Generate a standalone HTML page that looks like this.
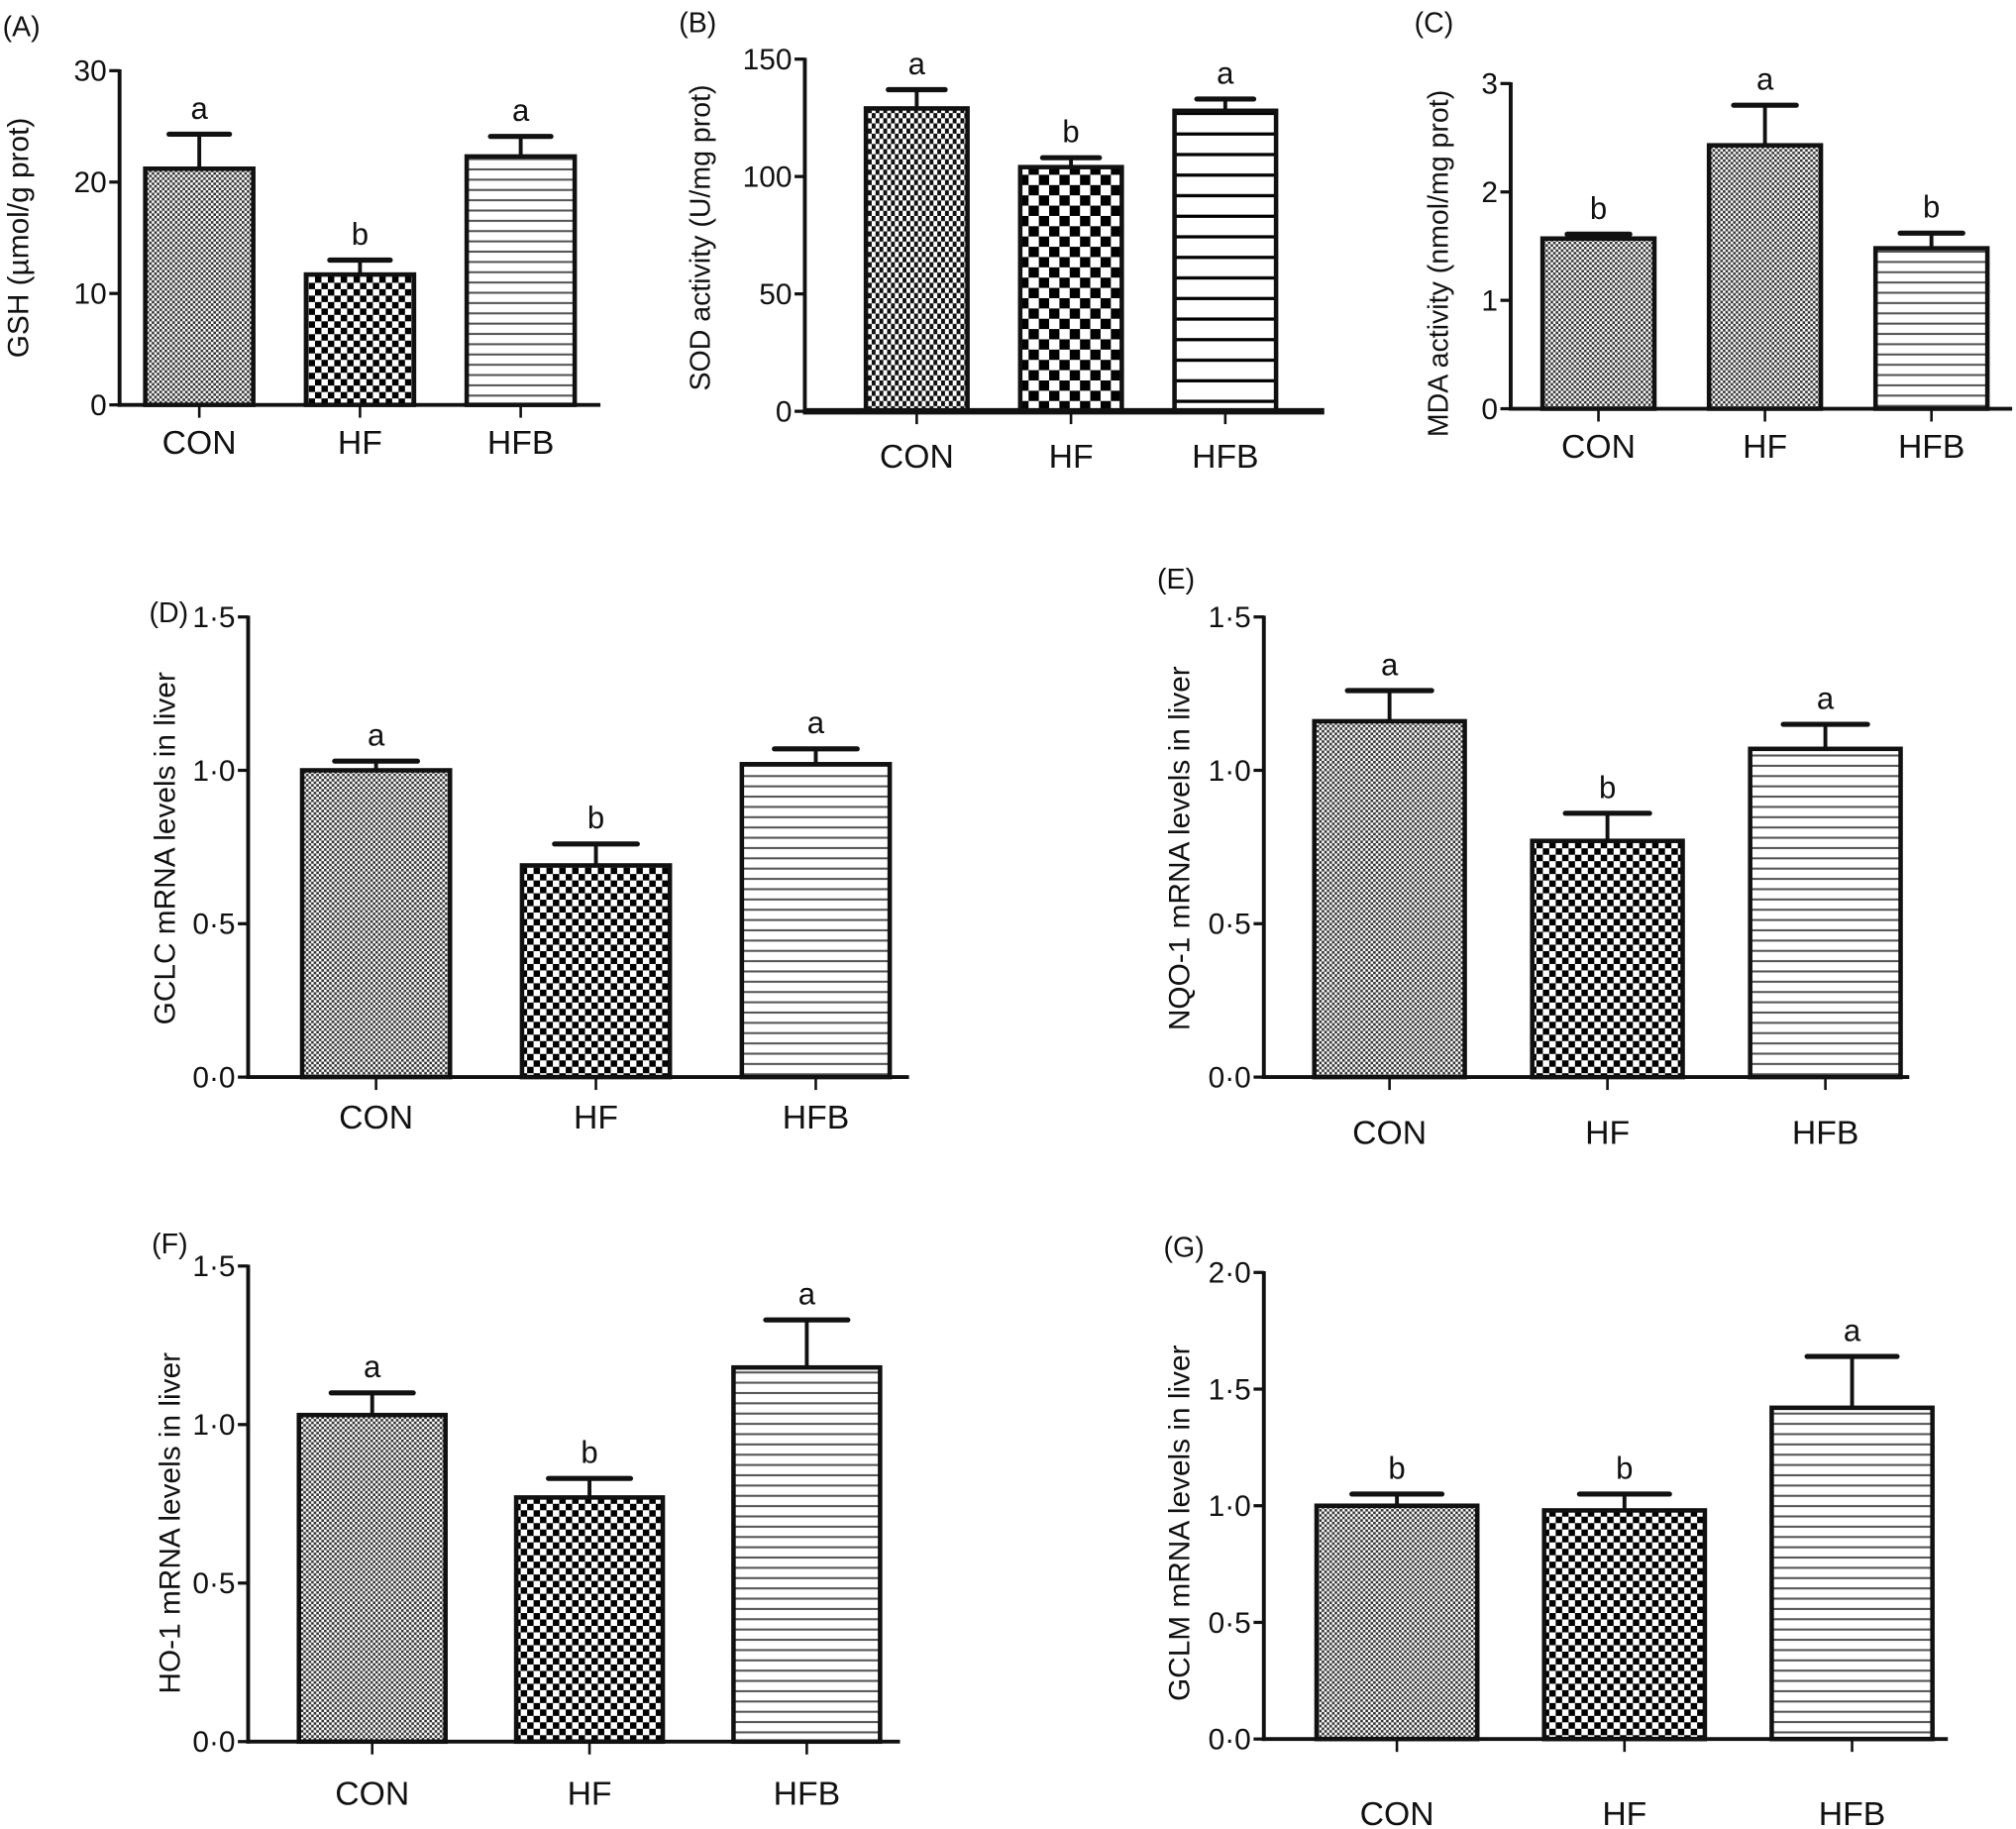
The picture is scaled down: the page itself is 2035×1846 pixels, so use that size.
<!DOCTYPE html>
<html><head><meta charset="utf-8"><style>
html,body{margin:0;padding:0;background:#fff;}
svg{display:block;font-family:"Liberation Sans",Arial,sans-serif;}
</style></head><body>
<svg id="fig" width="2035" height="1846" viewBox="0 0 1568 1423" preserveAspectRatio="none" xmlns="http://www.w3.org/2000/svg">
<defs>
<pattern id="pFine" width="4" height="4" patternUnits="userSpaceOnUse"><rect width="4" height="4" fill="#fff"/><rect width="2" height="2" fill="#333"/><rect x="2" y="2" width="2" height="2" fill="#333"/></pattern>
<pattern id="pCoarse" width="10" height="10" patternUnits="userSpaceOnUse"><rect width="10" height="10" fill="#fff"/><rect width="5" height="5" fill="#000"/><rect x="5" y="5" width="5" height="5" fill="#000"/></pattern>
<pattern id="pBig" width="16" height="16" patternUnits="userSpaceOnUse"><rect width="16" height="16" fill="#fff"/><rect width="8" height="8" fill="#000"/><rect x="8" y="8" width="8" height="8" fill="#000"/></pattern>
<pattern id="pVchk" width="6" height="8" patternUnits="userSpaceOnUse"><rect width="6" height="8" fill="#fff"/><rect width="3" height="4" fill="#111"/><rect x="3" y="4" width="3" height="4" fill="#111"/></pattern>
<pattern id="pLines" width="8" height="8" patternUnits="userSpaceOnUse"><rect width="8" height="8" fill="#fff"/><rect y="3" width="8" height="1.6" fill="#555"/></pattern>
<pattern id="pLinesWide" width="16" height="16" patternUnits="userSpaceOnUse"><rect width="16" height="16" fill="#fff"/><rect y="7" width="16" height="2.5" fill="#000"/></pattern>
</defs>
</svg>
<script>
const categories = ['CON','HF','HFB'];
// Panel A
const aVals = [21.2, 11.7, 22.3];
const aErr = [3.1, 1.3, 1.8];
const aSig = ['a','b','a'];
const aTicks = [0, 10, 20, 30];
// Panel B
const bVals = [129, 104, 128];
const bErr = [8, 4, 5];
const bSig = ['a','b','a'];
const bTicks = [0, 50, 100, 150];
// Panel C
const cVals = [1.57, 2.43, 1.48];
const cErr = [0.04, 0.37, 0.14];
const cSig = ['b','a','b'];
const cTicks = [0, 1, 2, 3];
// Panel D
const dVals = [1.0, 0.69, 1.02];
const dErr = [0.03, 0.07, 0.05];
const dSig = ['a','b','a'];
const dTicks = [0, 0.5, 1.0, 1.5];
// Panel E
const eVals = [1.16, 0.77, 1.07];
const eErr = [0.10, 0.09, 0.08];
const eSig = ['a','b','a'];
const eTicks = [0, 0.5, 1.0, 1.5];
// Panel F
const fVals = [1.03, 0.77, 1.18];
const fErr = [0.07, 0.06, 0.15];
const fSig = ['a','b','a'];
const fTicks = [0, 0.5, 1.0, 1.5];
// Panel G
const gVals = [1.0, 0.98, 1.42];
const gErr = [0.05, 0.07, 0.22];
const gSig = ['b','b','a'];
const gTicks = [0, 0.5, 1.0, 1.5, 2.0];

const NS = 'http://www.w3.org/2000/svg';
const svg = document.getElementById('fig');
function mk(tag, attrs, parent){ const e=document.createElementNS(NS,tag); for(const k in attrs) e.setAttribute(k,attrs[k]); (parent||svg).appendChild(e); return e; }

function panel(L, vals, errs, sig, ticks){
  const g = mk('g',{});
  
  
  const maxV = ticks[ticks.length-1];
  const y = v => L.y0 - (v/maxV)*(L.y0-L.yTop);
  const cx = i => L.start + (i+0.5)*L.step;
  const pl = mk('text',{x:L.lx,y:L.ly,'font-size':22,fill:'#111'},g); pl.textContent='('+L.id+')';
  
  
  vals.forEach((v,i)=>{
    const top = y(v), x0 = cx(i)-L.bw/2;
    const eTop = y(v+errs[i]);
    const el = mk('line',{x1:cx(i),x2:cx(i),y1:top,y2:eTop,stroke:'#111','stroke-width':3},g);
    
    
    const cap = mk('line',{x1:cx(i)-L.bw*0.28,x2:cx(i)+L.bw*0.28,y1:eTop,y2:eTop,stroke:'#111','stroke-width':4,'stroke-linecap':'round'},g);
    
    
    const r = mk('rect',{x:x0,y:top,width:L.bw,height:L.y0-top,fill:'url(#'+L.pats[i]+')',stroke:'#111','stroke-width':3.5},g);
    
    
    const s = mk('text',{x:cx(i),y:eTop-12,'font-size':24,'text-anchor':'middle',fill:'#111'},g); s.textContent=sig[i];
    
    
    const t = mk('line',{x1:cx(i),x2:cx(i),y1:L.y0,y2:L.y0+10,stroke:'#111','stroke-width':2},g);
    
    
    const xl = mk('text',{x:cx(i),y:L.xly,'font-size':26,'text-anchor':'middle',fill:'#111'},g); xl.textContent=categories[i];
    
    
  });
  const ya = mk('line',{x1:L.ax,x2:L.ax,y1:L.yTop-1,y2:L.y0+1.5,stroke:'#111','stroke-width':3},g);
  
  
  const xa = mk('line',{x1:L.ax-1.5,x2:L.xEnd,y1:L.y0,y2:L.y0,stroke:'#111','stroke-width':L.xw||3},g);
  
  
  ticks.forEach(tv=>{
    const ty=y(tv);
    const tk = mk('line',{x1:L.ax-8,x2:L.ax,y1:ty,y2:ty,stroke:'#111','stroke-width':2.5},g);
    
    
    const lab = mk('text',{x:L.ax-10,y:ty+8,'font-size':23,'text-anchor':'end',fill:'#111'},g);
    lab.textContent = L.dot ? tv.toFixed(1).replace('.','\u00B7') : String(tv);
    
    
  });
  const tt = mk('text',{x:0,y:0,'font-size':L.tfs||22,'text-anchor':'middle',fill:'#111',transform:'translate('+L.tx+','+L.ty+') rotate(-90)'},g);
  tt.textContent = L.title;
  
  
}

panel({id:'A',lx:2,ly:28,ax:93,y0:315,yTop:55,xEnd:467,start:92.5,step:125,bw:84,xly:353,tx:22,ty:185,tfs:23,title:'GSH (\u00B5mol/g prot)',pats:['pFine','pCoarse','pLines']}, aVals,aErr,aSig,aTicks);
panel({id:'B',lx:528,ly:25,ax:626,y0:320,yTop:46,xEnd:1030,start:653,step:120,bw:79,xly:364,tx:552,ty:185,title:'SOD activity (U/mg prot)',xw:5,pats:['pVchk','pBig','pLinesWide']}, bVals,bErr,bSig,bTicks);
panel({id:'C',lx:1100,ly:25,ax:1175,y0:318,yTop:65,xEnd:1565,start:1178.5,step:129.5,bw:87,xly:356,tx:1126,ty:205,title:'MDA activity (nmol/mg prot)',pats:['pFine','pFine','pLines']}, cVals,cErr,cSig,cTicks);
panel({id:'D',lx:116,ly:484,ax:193,y0:838,yTop:480,xEnd:707,start:207,step:171,bw:115,xly:878,tx:136,ty:660,title:'GCLC mRNA levels in liver',tfs:23,dot:true,pats:['pFine','pCoarse','pLines']}, dVals,dErr,dSig,dTicks);
panel({id:'E',lx:900,ly:458,ax:983,y0:838,yTop:480,xEnd:1485,start:996,step:169.5,bw:117,xly:890,tx:925,ty:660,title:'NQO-1 mRNA levels in liver',tfs:23,dot:true,pats:['pFine','pCoarse','pLines']}, eVals,eErr,eSig,eTicks);
panel({id:'F',lx:118,ly:975,ax:193,y0:1355,yTop:985,xEnd:700,start:205,step:169,bw:114,xly:1404,tx:140,ty:1185,title:'HO-1 mRNA levels in liver',tfs:23,dot:true,pats:['pFine','pCoarse','pLines']}, fVals,fErr,fSig,fTicks);
panel({id:'G',lx:905,ly:978,ax:983,y0:1353,yTop:990,xEnd:1515,start:998,step:177,bw:125,xly:1420,tx:925,ty:1185,title:'GCLM mRNA levels in liver',tfs:23,dot:true,pats:['pFine','pCoarse','pLines']}, gVals,gErr,gSig,gTicks);
</script>
</body></html>
